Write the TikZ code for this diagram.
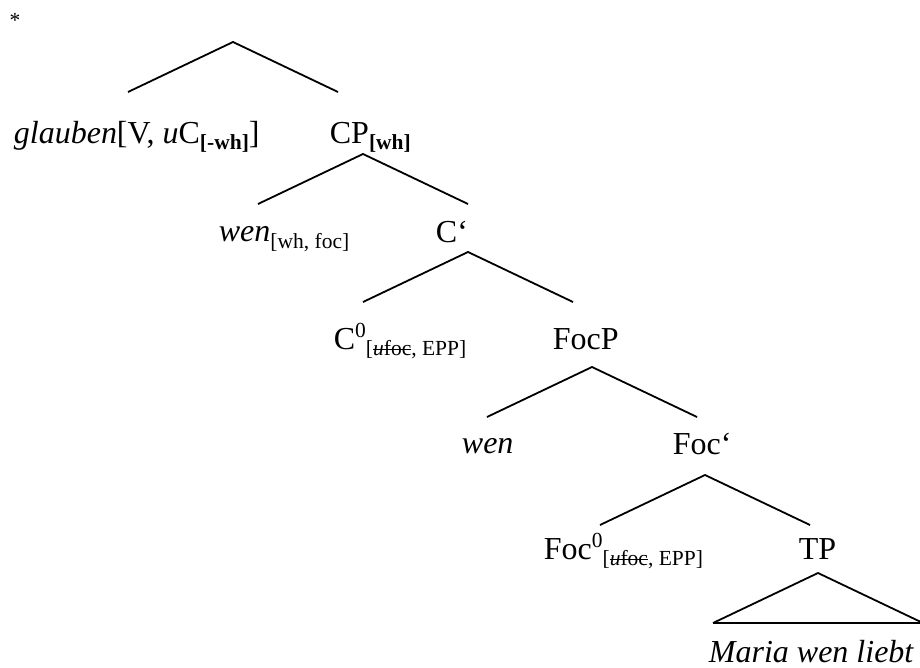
\documentclass[tikz,border=0pt]{standalone}
\usepackage{fontspec}
\setmainfont{Liberation Serif}
\newcommand{\lbl}{\fontsize{32}{38}\selectfont}
\newcommand{\sml}{\fontsize{21.5}{26}\selectfont}
\newcommand{\lo}[1]{\raisebox{-6pt}{\sml #1}}
\newcommand{\hi}[1]{\raisebox{12pt}{\sml #1}}
\newsavebox{\strkbox}
\newcommand{\strk}[1]{\sbox{\strkbox}{#1}\rlap{\rule[.24em]{\wd\strkbox}{1pt}}\usebox{\strkbox}}

\begin{document}
\begin{tikzpicture}[x=1pt, y=-1pt, line width=1.8pt,
    lab/.style={anchor=base west, inner sep=0pt, font=\lbl}]
    \def \dx {105}
    \def \dy {50}
    \useasboundingbox (0,0) rectangle (920,668);
    \node[anchor=base, inner sep=0pt, font=\sml] (star) at (15,28) {*};
    % labels, left edge and baseline
    \node[lab] (glauben) at (13,144) {\textit{glauben}[V, \textit{u}C\lo{\textbf{[-wh]}}]};
    \node[lab] (cp) at (329,144) {CP\lo{\textbf{[wh]}}};
    \node[lab] (wen1) at (218,242) {\textit{wen}\lo{[wh, foc]}};
    \node[lab] (cbar) at (435,243) {C\textquoteleft};
    \node[lab] (c0) at (333,349) {C\hi{0}\lo{[\strk{\textit{u}foc}, EPP]}};
    \node[lab] (focp) at (552,349) {FocP};
    \node[lab] (wen2) at (461,453) {\textit{wen}};
    \node[lab] (focbar) at (672,454) {Foc\textquoteleft};
    \node[lab] (foc0) at (543,559) {Foc\hi{0}\lo{[\strk{\textit{u}foc}, EPP]}};
    \node[lab] (tp) at (798,559) {TP};
    \node[lab] (maria) at (708,662) {\textit{Maria wen liebt}};
    % branches
    \foreach \n/\x/\y in {top/233/42, cpt/363/154, cbt/468/252, fpt/592/367, fbt/705/475, tpt/818/573}
    {
      \coordinate (\n) at (\x,\y);
      \coordinate (\n-l) at (\x-\dx,\y+\dy);
      \coordinate (\n-r) at (\x+\dx,\y+\dy);
      \draw (\n-l) -- (\n) -- (\n-r);
    }
    \draw (tpt-l) -- (tpt-r);
\end{tikzpicture}
\end{document}
